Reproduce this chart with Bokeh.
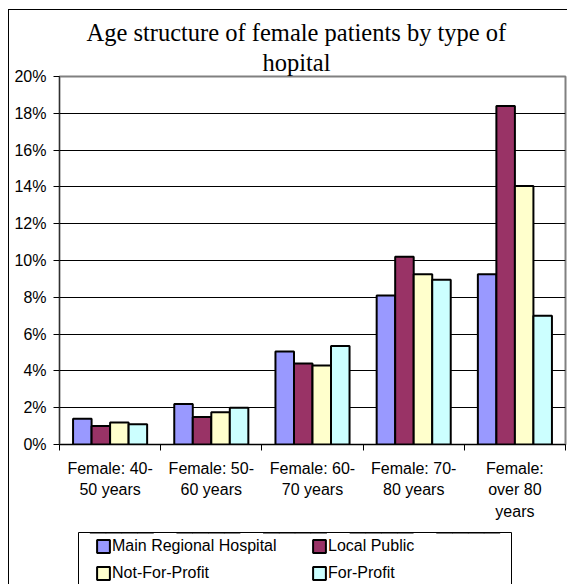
from bokeh.plotting import figure
from bokeh.layouts import column
from bokeh.models import (Legend, LegendItem, FixedTicker, PrintfTickFormatter, Range1d,
                          Title, LinearAxis)
from bokeh.embed import file_html
from bokeh.resources import INLINE

# ---- data ----
categories = ["Female: 40-\n50 years", "Female: 50-\n60 years", "Female: 60-\n70 years",
              "Female: 70-\n80 years", "Female:\nover 80\nyears"]
series_names = ["Main Regional Hospital", "Local Public", "Not-For-Profit", "For-Profit"]
main_regional = [1.4, 2.2, 5.05, 8.1, 9.25]
local_public = [1.0, 1.5, 4.4, 10.2, 18.4]
not_for_profit = [1.2, 1.75, 4.3, 9.25, 14.05]
for_profit = [1.1, 2.0, 5.35, 8.95, 7.0]
y_ticks = [0, 2, 4, 6, 8, 10, 12, 14, 16, 18, 20]
colors = ["#9999FF", "#993366", "#FFFFCC", "#CCFFFF"]
title_lines = ["Age structure of female patients by type of", "hopital"]

series = [main_regional, local_public, not_for_profit, for_profit]
n = len(categories)
bar_w = 0.183

# ---------------- main chart ----------------
p = figure(width=558, height=514, output_backend="svg", toolbar_location=None,
           x_range=Range1d(0, n), y_range=Range1d(0, 20), frame_align=False,
           min_border_left=50, min_border_right=2, min_border_top=66, min_border_bottom=80)
p.background_fill_color = "white"
p.border_fill_color = "white"
p.outline_line_color = "#808080"
p.outline_line_width = 2

for k, vals in enumerate(series):
    off = (k - 1.5) * bar_w
    xs = [i + 0.5 + off for i in range(n)]
    p.vbar(x=xs, top=vals, width=bar_w, bottom=0, fill_color=colors[k],
           line_color="black", line_width=2)

p.xaxis.ticker = FixedTicker(ticks=[i + 0.5 for i in range(n)], minor_ticks=list(range(n + 1)))
p.xaxis.major_label_overrides = {i + 0.5: c for i, c in enumerate(categories)}
p.xaxis.major_tick_line_color = None
p.xaxis.minor_tick_line_color = "black"
p.xaxis.minor_tick_out = 6
p.xaxis.minor_tick_in = 0
p.xaxis.axis_line_color = "black"
p.xaxis.major_label_text_font = "Liberation Sans"
p.xaxis.major_label_text_font_size = "16px"
p.xaxis.major_label_text_color = "black"
p.xaxis.major_label_text_line_height = 1.28
p.xaxis.major_label_standoff = 9

p.yaxis.ticker = FixedTicker(ticks=y_ticks)
p.yaxis.formatter = PrintfTickFormatter(format="%d%%")
p.yaxis.major_tick_out = 6
p.yaxis.major_tick_in = 0
p.yaxis.minor_tick_line_color = None
p.yaxis.major_tick_line_color = "black"
p.yaxis.axis_line_color = "#303030"
p.yaxis.major_label_text_font = "Liberation Sans"
p.yaxis.major_label_text_font_size = "16px"
p.yaxis.major_label_text_color = "black"
p.yaxis.major_label_standoff = 7

p.xgrid.grid_line_color = None
p.ygrid.ticker = FixedTicker(ticks=y_ticks[1:-1])
p.ygrid.grid_line_color = "black"
p.ygrid.grid_line_width = 1

# two-line title, left aligned with offsets (the added Title sits nearest the frame)
p.title.text = title_lines[0]
p.title.align = "left"
p.title.offset = 27
p.title.standoff = 0
p.title.text_font = "Liberation Serif"
p.title.text_font_size = "24.5px"
p.title.text_font_style = "normal"
p.title.text_color = "black"
p.add_layout(Title(text=title_lines[1], align="left", offset=203, standoff=2,
                   text_font="Liberation Serif", text_font_size="24.5px",
                   text_font_style="normal", text_color="black"), "above")

# ---------------- legend box ----------------
p2 = figure(width=558, height=60, output_backend="svg", toolbar_location=None,
            x_range=Range1d(0, n), y_range=Range1d(-2, -1), x_axis_location="above",
            frame_align=False,
            min_border_left=69, min_border_right=56, min_border_top=8, min_border_bottom=0)
p2.outline_line_color = None
p2.grid.visible = False
p2.add_layout(LinearAxis(), "right")
for ax in p2.axis:
    ax.ticker = FixedTicker(ticks=[])
    ax.major_tick_out = 0
    ax.major_tick_in = 0
    ax.minor_tick_out = 0
    ax.minor_tick_in = 0
    ax.axis_line_color = "black"
    ax.axis_line_width = 1

# same series drawn in the legend panel, outside its visible y-range (only their legend glyphs show)
legend_renderers = []
for k, vals in enumerate(series):
    off = (k - 1.5) * bar_w
    xs = [i + 0.5 + off for i in range(n)]
    legend_renderers.append(p2.vbar(x=xs, top=vals, width=bar_w, bottom=0, fill_color=colors[k],
                                    line_color="black", line_width=2))
legend = Legend(items=[LegendItem(label=series_names[k], renderers=[legend_renderers[k]], index=0)
                       for k in range(4)],
                orientation="horizontal", ncols=2, location=(17, 1),
                glyph_width=16, glyph_height=16, label_width=192, label_height=20,
                label_standoff=1, spacing=7, padding=0, margin=0,
                label_text_font="Liberation Sans", label_text_font_size="16px",
                label_text_color="black", border_line_color=None, background_fill_alpha=0)
p2.add_layout(legend, "center")

layout = column(p, p2, spacing=0,
                styles={"margin-left": "8px", "margin-top": "9px",
                        "border-left": "1px solid black", "border-top": "1px solid black"})

open("out.html", "w").write(file_html(layout, INLINE))
